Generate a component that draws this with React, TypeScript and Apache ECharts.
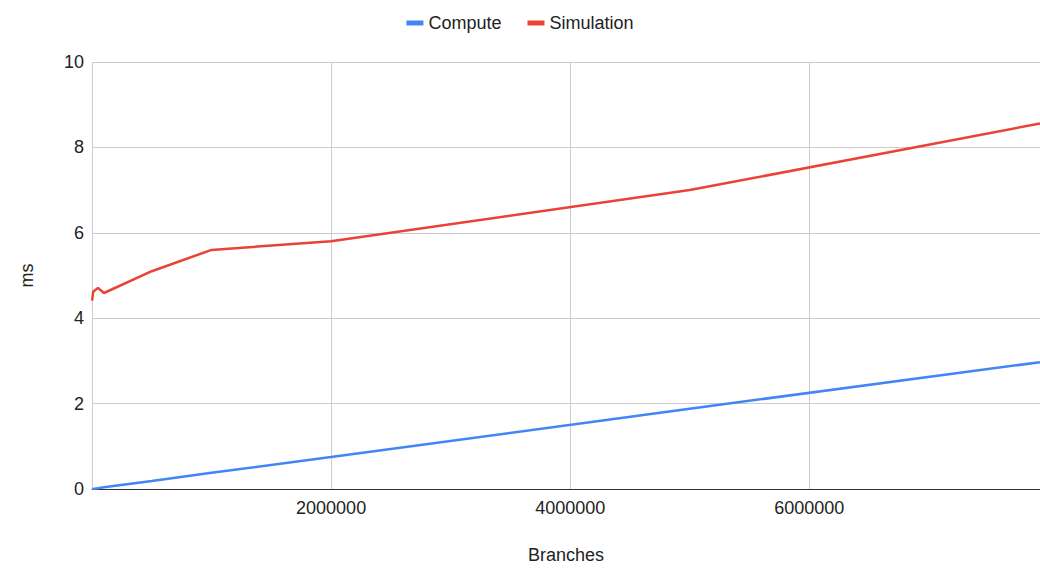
import React, { useEffect, useRef } from "react";
import * as echarts from "echarts";

// Branch counts sampled (x) and timings in ms (y)
const branches = [1000, 10000, 50000, 100000, 500000, 1000000, 2000000, 5000000, 7930000];
const compute = [0.0, 0.0, 0.02, 0.04, 0.19, 0.38, 0.75, 1.88, 2.97];
const simulation = [4.41, 4.62, 4.71, 4.59, 5.1, 5.6, 5.8, 7.0, 8.56];
const seriesNames = ["Compute", "Simulation"];
const colors = ["#4285f4", "#ea4335"];

const pairs = (ys: number[]) => branches.map((x, i) => [x, ys[i]]);

export default function App() {
  const ref = useRef<HTMLDivElement>(null);
  useEffect(() => {
    if (!ref.current) return;
    const chart = echarts.init(ref.current, undefined, { renderer: "svg" });
    const font = "Arial, 'Liberation Sans', sans-serif";
    const fs = 18;
    chart.setOption({
      animation: false,
      textStyle: { fontFamily: font },
      color: colors,
      legend: {
        top: 9,
        left: "center",
        itemWidth: 17,
        itemHeight: 5,
        itemGap: 26,
        icon: "rect",
        textStyle: { fontSize: fs, color: "#222", fontFamily: font },
        data: seriesNames,
      },
      grid: { left: 92, right: 0, top: 62, height: 431, containLabel: false },
      xAxis: {
        type: "value",
        min: 0,
        max: 7930000,
        interval: 2000000,
        name: "Branches",
        nameLocation: "middle",
        nameGap: 57,
        nameTextStyle: { fontSize: fs, color: "#222", fontFamily: font },
        axisLine: { show: true, lineStyle: { color: "#333", width: 1 } },
        axisTick: { show: false },
        axisLabel: {
          fontSize: fs,
          color: "#222",
          margin: 10,
          showMinLabel: false,
          showMaxLabel: false,
          fontFamily: font,
          formatter: (v: number) => String(v),
        },
        splitLine: { show: true, lineStyle: { color: "#cccccc", width: 1 } },
      },
      yAxis: {
        type: "value",
        min: 0,
        max: 10,
        interval: 2,
        name: "ms",
        nameLocation: "middle",
        nameGap: 56,
        nameTextStyle: { fontSize: fs, color: "#222", fontFamily: font },
        axisLine: { show: false },
        axisTick: { show: false },
        axisLabel: { fontSize: fs, color: "#222", margin: 8, fontFamily: font },
        splitLine: { show: true, lineStyle: { color: "#cccccc", width: 1 } },
      },
      series: [
        {
          name: seriesNames[0],
          type: "line",
          data: pairs(compute),
          showSymbol: false,
          symbol: "none",
          lineStyle: { width: 2.5, color: colors[0] },
          z: 3,
        },
        {
          name: seriesNames[1],
          type: "line",
          data: pairs(simulation),
          showSymbol: false,
          symbol: "none",
          lineStyle: { width: 2.5, color: colors[1] },
          z: 3,
        },
      ],
    });
    return () => chart.dispose();
  }, []);
  return (
    <div
      ref={ref}
      style={{ position: "absolute", left: 0, top: 0, width: 1040, height: 569, background: "#fff" }}
    />
  );
}
